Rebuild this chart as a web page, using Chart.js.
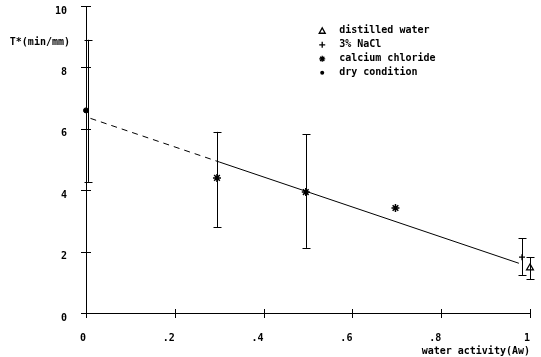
<!DOCTYPE html>
<html><head><meta charset="utf-8">
<script src="https://cdn.jsdelivr.net/npm/chart.js@4.4.1/dist/chart.umd.min.js"></script>
<style>html,body{margin:0;padding:0;background:#fff}#wrap{width:541px;height:357px}</style>
</head><body><div id="wrap"><canvas id="c" width="541" height="357"></canvas></div>
<script>
// ---- data ----
const xTickValues = [0, 0.2, 0.4, 0.6, 0.8, 1];
const xTickLabels = ['0', '.2', '.4', '.6', '.8', '1'];
const yTickValues = [0, 2, 4, 6, 8, 10];
const yTickLabels = ['0', '2', '4', '6', '8', '10'];
const seriesNames = ['distilled water', '3% NaCl', 'calcium chloride', 'dry condition'];

const distilledX = [1.0];
const distilledY = [1.47];
const distilledLow = [1.10];
const distilledHigh = [1.82];

const naclX = [0.982];
const naclY = [1.82];
const naclLow = [1.24];
const naclHigh = [2.44];

const calciumX = [0.295, 0.495, 0.697];
const calciumY = [4.40, 3.94, 3.42];
const calciumLow = [2.80, 2.12, null];
const calciumHigh = [5.90, 5.83, null];

const dryX = [0];
const dryY = [6.60];
const dryLow = [4.27];
const dryHigh = [8.90];

const fitSolidX = [0.30, 0.975];
const fitSolidY = [4.92, 1.62];
const fitDashX = [0.01, 0.30];
const fitDashY = [6.34, 4.92];

const yAxisTitle = 'T*(min/mm)';
const xAxisTitle = 'water activity(Aw)';

const pts = (xs, ys) => xs.map((x, i) => ({x: x, y: ys[i]}));
const FONT = '"DejaVu Sans Mono", "Liberation Mono", monospace';

function marker(ctx, style, x, y, r) {
  ctx.beginPath();
  if (style === 'triangle') {
    ctx.moveTo(x, y - r); ctx.lineTo(x + r, y + r * 0.8); ctx.lineTo(x - r, y + r * 0.8); ctx.closePath();
    ctx.fillStyle = '#fff'; ctx.fill(); ctx.stroke();
  } else if (style === 'cross') {
    ctx.moveTo(x - r, y); ctx.lineTo(x + r, y); ctx.moveTo(x, y - r); ctx.lineTo(x, y + r); ctx.stroke();
  } else if (style === 'star') {
    for (let k = 0; k < 4; k++) {
      const a = k * Math.PI / 4;
      ctx.moveTo(x - r * Math.cos(a), y - r * Math.sin(a)); ctx.lineTo(x + r * Math.cos(a), y + r * Math.sin(a));
    }
    ctx.stroke();
  } else {
    ctx.arc(x, y, r, 0, Math.PI * 2); ctx.fillStyle = '#000'; ctx.fill();
  }
}

const decor = {
  id: 'decor',
  afterDatasetsDraw(chart) {
    const ctx = chart.ctx, xs = chart.scales.x, ys = chart.scales.y, area = chart.chartArea;
    ctx.save();
    ctx.strokeStyle = '#000'; ctx.fillStyle = '#000'; ctx.lineWidth = 1;
    // crossing ticks
    xs.ticks.forEach((t, i) => {
      const px = Math.round(xs.getPixelForTick(i)) + 0.5;
      ctx.beginPath(); ctx.moveTo(px, area.bottom - 4); ctx.lineTo(px, area.bottom + 5); ctx.stroke();
    });
    ys.ticks.forEach((t, i) => {
      const py = Math.round(ys.getPixelForTick(i)) + 0.5;
      ctx.beginPath(); ctx.moveTo(area.left - 5, py); ctx.lineTo(area.left + 5, py); ctx.stroke();
    });
    // error bars
    chart.data.datasets.forEach((ds, di) => {
      if (!ds.errLow) return;
      ds.data.forEach((p, i) => {
        const lo = ds.errLow[i], hi = ds.errHigh[i];
        if (lo == null) return;
        const px = Math.round(xs.getPixelForValue(p.x)) + 0.5 + (ds.errShift || 0);
        const pl = ys.getPixelForValue(lo), ph = ys.getPixelForValue(hi);
        ctx.beginPath();
        ctx.moveTo(px, pl); ctx.lineTo(px, ph);
        ctx.moveTo(px - 4, Math.round(pl) + 0.5); ctx.lineTo(px + 4, Math.round(pl) + 0.5);
        ctx.moveTo(px - 4, Math.round(ph) + 0.5); ctx.lineTo(px + 4, Math.round(ph) + 0.5);
        ctx.stroke();
      });
    });
    // y axis title
    ctx.font = 'bold 10px ' + FONT;
    ctx.textAlign = 'right'; ctx.textBaseline = 'middle';
    ctx.fillText(yAxisTitle, area.left - 16, ys.getPixelForValue(8.83));
    // legend
    const lx = xs.getPixelForValue(0.532), ly0 = ys.getPixelForValue(9.19);
    chart.data.datasets.forEach((ds, di) => {
      if (!ds.legendStyle) return;
      const yy = ly0 + di * 14;
      ctx.lineWidth = 1.3; ctx.strokeStyle = '#000';
      marker(ctx, ds.legendStyle, lx, yy, ds.legendStyle === 'circle' ? 2 : 3);
      ctx.fillStyle = '#000'; ctx.textAlign = 'left';
      ctx.fillText(ds.label, lx + 17, yy);
    });
    ctx.restore();
  }
};

function fixX(s) { s.height = 44; s.paddingLeft = 0; s.paddingRight = 0; s.paddingTop = 0; s.paddingBottom = 0; }
function fixY(s) { s.width = 86; s.paddingLeft = 0; s.paddingRight = 0; s.paddingTop = 0; s.paddingBottom = 0; }

Chart.defaults.font.family = FONT;
Chart.defaults.font.weight = 'bold';
Chart.defaults.font.size = 10;
Chart.defaults.color = '#000';

new Chart(document.getElementById('c'), {
  type: 'scatter',
  data: {
    datasets: [
      {label: seriesNames[0], data: pts(distilledX, distilledY), errLow: distilledLow, errHigh: distilledHigh,
       legendStyle: 'triangle', pointStyle: 'triangle', radius: 4, borderColor: '#000', backgroundColor: '#fff', borderWidth: 1.2},
      {label: seriesNames[1], data: pts(naclX, naclY), errLow: naclLow, errHigh: naclHigh,
       legendStyle: 'cross', pointStyle: 'cross', radius: 3, borderColor: '#000', borderWidth: 1.3},
      {label: seriesNames[2], data: pts(calciumX, calciumY), errLow: calciumLow, errHigh: calciumHigh,
       legendStyle: 'star', pointStyle: 'star', radius: 4, borderColor: '#000', borderWidth: 1.5},
      {label: seriesNames[3], data: pts(dryX, dryY), errLow: dryLow, errHigh: dryHigh, errShift: 2,
       legendStyle: 'circle', pointStyle: 'circle', radius: 2.5, borderColor: '#000', backgroundColor: '#000', borderWidth: 1},
      {label: 'fit', data: pts(fitSolidX, fitSolidY), showLine: true, pointRadius: 0,
       borderColor: '#000', borderWidth: 1},
      {label: 'fit extrapolated', data: pts(fitDashX, fitDashY), showLine: true, pointRadius: 0,
       borderColor: '#000', borderWidth: 1, borderDash: [6, 5]}
    ]
  },
  options: {
    responsive: false, animation: false,
    layout: {padding: {left: 0, right: 11, top: 6, bottom: 0}},
    clip: false,
    plugins: {legend: {display: false}, tooltip: {enabled: false}},
    elements: {point: {hoverRadius: 4}},
    scales: {
      x: {
        type: 'linear', min: 0, max: 1,
        afterBuildTicks: s => { s.ticks = xTickValues.map(v => ({value: v})); },
        afterFit: fixX,
        grid: {display: false, drawTicks: false},
        border: {display: true, color: '#000', width: 1},
        ticks: {callback: (v, i) => xTickLabels[i], align: 'end', padding: 19, maxRotation: 0, autoSkip: false},
        title: {display: true, text: xAxisTitle, align: 'end', padding: {top: 3, bottom: 0}}
      },
      y: {
        type: 'linear', min: 0, max: 10,
        afterBuildTicks: s => { s.ticks = yTickValues.map(v => ({value: v})); },
        afterFit: fixY,
        grid: {display: false, drawTicks: false},
        border: {display: true, color: '#000', width: 1},
        ticks: {callback: (v, i) => yTickLabels[i], padding: 19, labelOffset: 5, autoSkip: false}
      }
    }
  },
  plugins: [decor]
});
</script></body></html>
